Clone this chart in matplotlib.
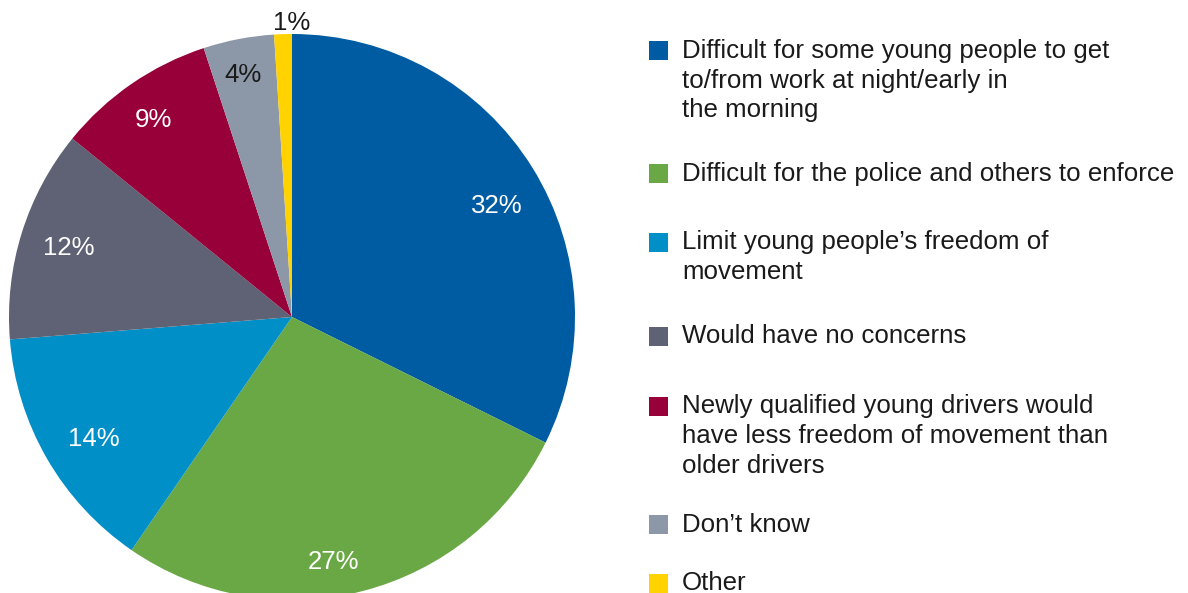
import numpy as np
import matplotlib.pyplot as plt
from matplotlib.patches import Rectangle

plt.rcParams['font.family'] = ['Liberation Sans', 'DejaVu Sans']

# survey answers, clockwise from 12 o'clock
labels = [
    'Difficult for some young people to get\nto/from work at night/early in\nthe morning',
    'Difficult for the police and others to enforce',
    'Limit young people\u2019s freedom of\nmovement',
    'Would have no concerns',
    'Newly qualified young drivers would\nhave less freedom of movement than\nolder drivers',
    'Don\u2019t know',
    'Other',
]
shares = [32, 27, 14, 12, 9, 4, 1]
colors = ['#005ca2', '#6aa845', '#008fc7', '#5f6174', '#970038', '#8c97a8', '#ffd200']
pct_colors = ['white', 'white', 'white', 'white', 'white', '#1a1a1a', '#1a1a1a']
# label placement: fraction of radius and angle shift from wedge middle (deg)
pct_dist = [0.827, 0.871, 0.818, 0.829, 0.859, 0.882, 1.046]
pct_shift = [-2.9, -4.85, 1.1, -0.3, 0.3, 0.5, -1.7]

W, H = 1188, 593
FS = 18.6
CAP = FS * 100 / 72 * 0.716  # cap height in px
LINE = 29.8                  # legend line step in px

fig = plt.figure(figsize=(W / 100, H / 100), dpi=100)
ax = fig.add_axes([0, 0, 1, 1])

cx, cy, R = 292, H - 317, 283
wedges, _ = ax.pie(shares, colors=colors, startangle=90, counterclock=False,
                   center=(cx, cy), radius=R, frame=True,
                   wedgeprops=dict(linewidth=0))
ax.set_xlim(0, W)
ax.set_ylim(0, H)
ax.set_aspect('equal')
ax.axis('off')

for w, s, c, d, sh in zip(wedges, shares, pct_colors, pct_dist, pct_shift):
    mid = np.deg2rad((w.theta1 + w.theta2) / 2 + sh)
    ax.text(cx + d * R * np.cos(mid), cy + d * R * np.sin(mid) - CAP / 2, f'{s}%',
            ha='center', va='baseline', fontsize=FS, color=c)

# legend drawn by hand: square + one text per wrapped line (baselines in px from top)
baselines = [57.7, 180.7, 249.3, 343.3, 413.3, 531.7, 590]
for lab, col, b in zip(labels, colors, baselines):
    ax.add_patch(Rectangle((649, H - b + 7 - 9.5), 19, 19, color=col, lw=0))
    for i, line in enumerate(lab.split('\n')):
        ax.text(682, H - b - i * LINE, line, ha='left', va='baseline',
                fontsize=FS, color='#1a1a1a')

fig.savefig('out.png', dpi=100)
